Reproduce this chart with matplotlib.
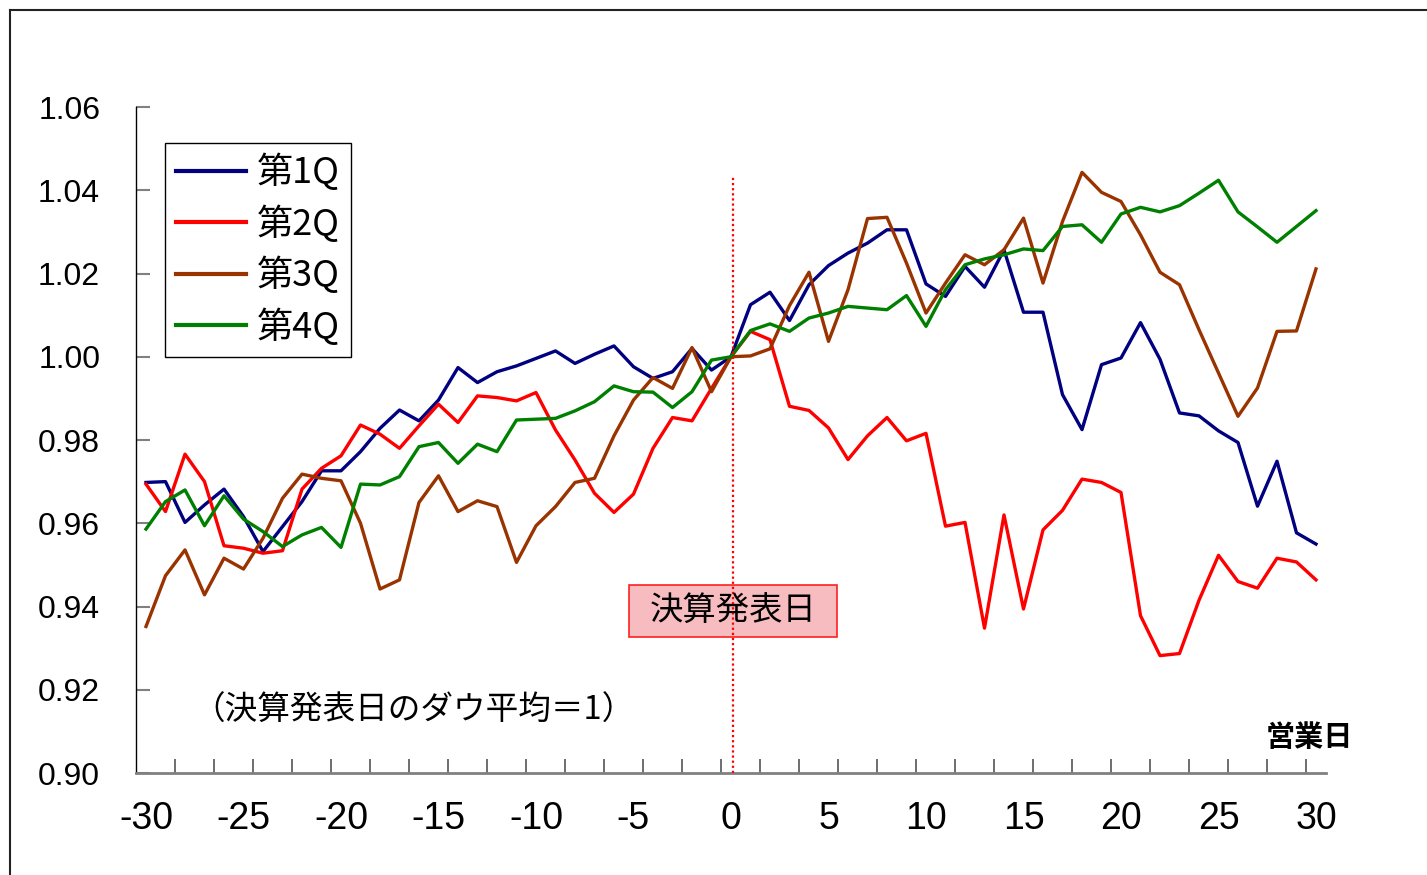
import numpy as np
import matplotlib
matplotlib.use('Agg')
import matplotlib.pyplot as plt
from matplotlib import font_manager
from matplotlib.lines import Line2D
from matplotlib.patches import Rectangle

# ---------------- data ----------------
days = list(range(-30, 31))

q1 = [0.9698, 0.9700, 0.9602, 0.9644, 0.9682, 0.9616, 0.9532, 0.9592, 0.9652, 0.9726,
      0.9726, 0.9772, 0.9828, 0.9872, 0.9846, 0.9896,
      0.9974, 0.9938, 0.9964, 0.9978, 0.9996, 1.0014, 0.9984, 1.0006, 1.0026, 0.9976,
      0.9948, 0.9964, 1.0020, 0.9968, 1.0000,
      1.0125, 1.0155, 1.0087, 1.0173, 1.0219, 1.0249, 1.0273, 1.0305, 1.0305, 1.0175,
      1.0145, 1.0217, 1.0167, 1.0257, 1.0107, 1.0107, 0.9909, 0.9825, 0.9981, 0.9997,
      1.0082, 0.9994, 0.9865, 0.9858, 0.9822, 0.9794, 0.9641, 0.9749, 0.9577, 0.9550]

q2 = [0.9694, 0.9628, 0.9766, 0.9700, 0.9546, 0.9540, 0.9528, 0.9534, 0.9682, 0.9732,
      0.9762, 0.9836, 0.9814, 0.9780, 0.9834, 0.9886,
      0.9842, 0.9906, 0.9902, 0.9894, 0.9914, 0.9824, 0.9752, 0.9672, 0.9626, 0.9670,
      0.9780, 0.9854, 0.9846, 0.9924, 1.0000,
      1.0061, 1.0041, 0.9881, 0.9871, 0.9829, 0.9753, 0.9810, 0.9854, 0.9798, 0.9816,
      0.9593, 0.9602, 0.9348, 0.9620, 0.9394, 0.9584, 0.9631, 0.9706, 0.9698, 0.9674,
      0.9378, 0.9282, 0.9287, 0.9415, 0.9523, 0.9460, 0.9444, 0.9516, 0.9507, 0.9464]

q3 = [0.9352, 0.9474, 0.9536, 0.9428, 0.9516, 0.9490, 0.9564, 0.9660, 0.9718, 0.9708,
      0.9702, 0.9600, 0.9442, 0.9464, 0.9650, 0.9714,
      0.9628, 0.9654, 0.9640, 0.9506, 0.9594, 0.9640, 0.9698, 0.9708, 0.9810, 0.9896,
      0.9950, 0.9924, 1.0022, 0.9916, 1.0000,
      1.0002, 1.0019, 1.0123, 1.0203, 1.0037, 1.0161, 1.0332, 1.0335, 1.0225, 1.0105,
      1.0177, 1.0245, 1.0221, 1.0257, 1.0333, 1.0177, 1.0325, 1.0443, 1.0395, 1.0373,
      1.0293, 1.0203, 1.0173, 1.0065, 0.9961, 0.9857, 0.9925, 1.0061, 1.0062, 1.0211]

q4 = [0.9586, 0.9652, 0.9680, 0.9594, 0.9666, 0.9610, 0.9580, 0.9544, 0.9572, 0.9590,
      0.9542, 0.9694, 0.9692, 0.9712, 0.9784, 0.9794,
      0.9744, 0.9790, 0.9772, 0.9848, 0.9850, 0.9852, 0.9870, 0.9892, 0.9930, 0.9916,
      0.9915, 0.9878, 0.9916, 0.9992, 1.0000,
      1.0063, 1.0079, 1.0061, 1.0093, 1.0105, 1.0121, 1.0117, 1.0113, 1.0147, 1.0073,
      1.0161, 1.0221, 1.0235, 1.0245, 1.0259, 1.0255, 1.0313, 1.0317, 1.0275, 1.0343,
      1.0359, 1.0348, 1.0363, 1.0393, 1.0424, 1.0348, 1.0312, 1.0275, 1.0313, 1.0351]

series_labels = ['第1Q', '第2Q', '第3Q', '第4Q']
series_colors = ['#000080', '#FF0000', '#993300', '#008000']
x_tick_values = [-30, -25, -20, -15, -10, -5, 0, 5, 10, 15, 20, 25, 30]
y_tick_values = [0.90, 0.92, 0.94, 0.96, 0.98, 1.00, 1.02, 1.04, 1.06]

# ---------------- fonts ----------------
names = {f.name for f in font_manager.fontManager.ttflist}
num_font = 'Liberation Sans Narrow' if 'Liberation Sans Narrow' in names else 'Liberation Sans'
cjk = 'Noto Sans CJK JP'
plt.rcParams['font.family'] = [num_font, cjk, 'DejaVu Sans']

W, H = 1427, 875
fig = plt.figure(figsize=(W / 100, H / 100), dpi=100)
fig.patch.set_facecolor('white')

ax = fig.add_axes([136.25 / W, 1 - 773 / H, 1189.5 / W, 666 / H])

for vals, lab, col in zip([q1, q2, q3, q4], series_labels, series_colors):
    ax.plot(days, vals, color=col, lw=2.4, label=lab, zorder=3)

ax.set_xlim(-30.5, 30.5)
ax.set_ylim(0.90, 1.06)

for s in ['top', 'right']:
    ax.spines[s].set_visible(False)
ax.spines['left'].set_color('black')
ax.spines['left'].set_linewidth(1.0)
ax.spines['bottom'].set_color('#808080')
ax.spines['bottom'].set_linewidth(2.0)

ax.set_yticks(y_tick_values)
ax.set_yticklabels([f'{v:.2f}' for v in y_tick_values], fontfamily=num_font)
ax.tick_params(axis='y', direction='in', length=10, width=1.5, color='#808080',
               pad=26, labelsize=23)

ax.set_xticks(x_tick_values)
ax.set_xticklabels([str(v) for v in x_tick_values], fontfamily=num_font)
ax.tick_params(axis='x', which='major', length=0, pad=20, labelsize=27)
ax.set_xticks(np.arange(-28.5, 30.5, 2), minor=True)
ax.tick_params(axis='x', which='minor', direction='in', length=10, width=1.2, color='#555555')

# event marker
ax.axvline(0.1, ymin=0, ymax=(1.0432 - 0.90) / 0.16, color='red', lw=1.6,
           ls=(0, (1, 1.3)), zorder=5)

box = Rectangle((629 / W, 1 - 637 / H), 208 / W, 52 / H, transform=fig.transFigure,
                facecolor='#f7bcc0', edgecolor='#ff2020', lw=1.2, zorder=4)
ax.add_patch(box)
box.set_clip_on(False)
fig.text(733 / W, 1 - 611 / H, '決算発表日', ha='center', va='center',
         family=[cjk], size=24, zorder=6)

fig.text(192 / W, 1 - 711 / H, '（決算発表日のダウ平均＝1）', ha='left', va='center',
         family=[cjk], size=23.5)
fig.text(1353 / W, 1 - 737 / H, '営業日', ha='right', va='center',
         family=[cjk], size=21, weight='bold')

leg = ax.legend(loc='upper left', bbox_to_anchor=(165 / W, 1 - 143 / H),
                bbox_transform=fig.transFigure, prop={'family': [cjk], 'size': 26},
                frameon=True, fancybox=False, edgecolor='black', framealpha=1,
                handlelength=1.95, handletextpad=0.3, borderpad=0.3,
                labelspacing=0.39, borderaxespad=0)
leg.get_frame().set_linewidth(1.0)
for h in leg.get_lines():
    h.set_linewidth(3)

# outer chart frame
fig.add_artist(Line2D([10 / W, 1], [1 - 10 / H, 1 - 10 / H], transform=fig.transFigure,
                      color='#222222', lw=1.5))
fig.add_artist(Line2D([10 / W, 10 / W], [0, 1 - 10 / H], transform=fig.transFigure,
                      color='#222222', lw=1.5))

fig.savefig('out.png', dpi=100)
